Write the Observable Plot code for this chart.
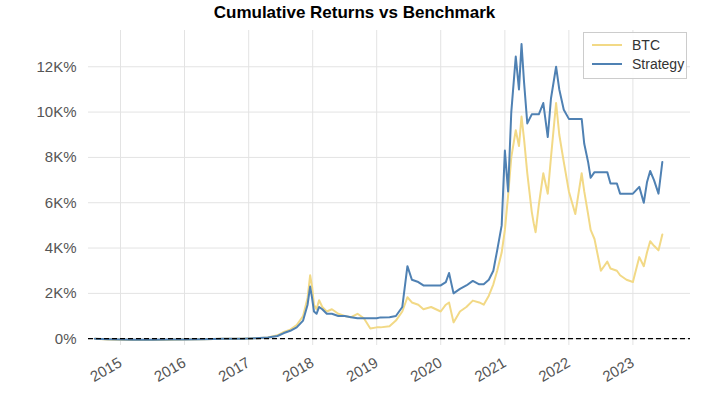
<!DOCTYPE html>
<html><head><meta charset="utf-8">
<script src="https://cdn.jsdelivr.net/npm/d3@7"></script>
<script src="https://cdn.jsdelivr.net/npm/@observablehq/plot@0.6"></script>
<style>
body{margin:0;background:#fff;font-family:"Liberation Sans",Arial,sans-serif;}
#wrap{position:relative;width:709px;}
#title{height:27px;line-height:26px;text-align:center;font-weight:bold;font-size:17px;color:#000;}
#legend{position:absolute;left:583px;top:32px;width:102px;height:45px;border:1px solid #ccc;background:rgba(255,255,255,0.9);font-size:14px;color:#333;}
.li{position:absolute;left:8px;display:flex;align-items:center;}
.sw{width:30px;height:2px;margin-right:10px;}
</style></head><body>
<div id="wrap"><div id="title">Cumulative Returns vs Benchmark</div><div id="chart"></div>
<div id="legend"><div class="li" style="top:4px"><div class="sw" style="background:#f2d986"></div>BTC</div>
<div class="li" style="top:23px"><div class="sw" style="background:#4f81b3"></div>Strategy</div></div></div>
<script>
const years = [2014.6,2014.8,2015.0,2015.2,2015.5,2015.8,2016.0,2016.3,2016.6,2016.9,2017.1,2017.3,2017.45,2017.55,2017.65,2017.75,2017.85,2017.92,2017.96,2017.99,2018.02,2018.06,2018.1,2018.15,2018.22,2018.3,2018.4,2018.5,2018.6,2018.7,2018.8,2018.9,2019.0,2019.06,2019.2,2019.3,2019.4,2019.48,2019.55,2019.65,2019.73,2019.85,2020.0,2020.08,2020.13,2020.2,2020.3,2020.4,2020.5,2020.6,2020.67,2020.75,2020.82,2020.88,2020.95,2021.0,2021.05,2021.1,2021.17,2021.22,2021.26,2021.3,2021.35,2021.42,2021.45,2021.48,2021.53,2021.6,2021.67,2021.72,2021.8,2021.85,2021.92,2022.0,2022.1,2022.2,2022.24,2022.3,2022.34,2022.4,2022.5,2022.6,2022.65,2022.75,2022.8,2022.9,2023.0,2023.1,2023.17,2023.22,2023.27,2023.33,2023.4,2023.46];
const btc = [0,-0.03,-0.05,-0.06,-0.06,-0.05,-0.03,-0.02,0,0,0.02,0.05,0.15,0.3,0.4,0.6,1.0,1.8,2.8,2.3,1.5,1.3,1.7,1.4,1.2,1.3,1.1,1.0,0.95,1.1,0.9,0.45,0.5,0.5,0.55,0.8,1.2,1.83,1.6,1.5,1.3,1.4,1.2,1.5,1.6,0.72,1.2,1.4,1.68,1.6,1.5,1.9,2.4,3.0,3.8,4.8,6.3,8.0,9.2,8.5,9.8,8.8,7.3,5.6,5.1,4.7,5.9,7.3,6.4,8.0,10.4,9.0,7.8,6.5,5.5,7.3,6.5,5.5,4.8,4.4,3.0,3.4,3.1,3.0,2.8,2.6,2.5,3.6,3.2,3.8,4.3,4.1,3.9,4.6];
const strategy = [0,-0.02,-0.04,-0.05,-0.05,-0.04,-0.03,-0.02,0,0,0.02,0.05,0.12,0.25,0.35,0.5,0.8,1.5,2.3,1.8,1.2,1.1,1.4,1.3,1.1,1.1,1.0,1.0,0.95,0.9,0.9,0.9,0.9,0.94,0.95,1.0,1.4,3.2,2.6,2.5,2.35,2.35,2.35,2.5,2.9,2.0,2.2,2.35,2.55,2.4,2.4,2.6,3.0,3.9,5.0,8.3,6.5,10.0,12.45,11.0,13.0,11.3,9.5,9.9,9.9,9.9,9.9,10.4,8.9,10.6,12.0,11.0,10.1,9.7,9.7,9.7,8.6,7.8,7.1,7.35,7.35,7.35,6.85,6.85,6.4,6.4,6.4,6.7,6.0,6.9,7.4,7.0,6.4,7.8];
const toDate = y => { const yr=Math.floor(y); const s=new Date(Date.UTC(yr,0,1)), e=new Date(Date.UTC(yr+1,0,1)); return new Date(+s+(y-yr)*(e-s)); };
const tickYears = [2015,2016,2017,2018,2019,2020,2021,2022,2023];
const yTicks = [0,2,4,6,8,10,12];
const rows = [];
years.forEach((y,i)=>{ rows.push({d:toDate(y),v:btc[i],s:"BTC"}); rows.push({d:toDate(y),v:strategy[i],s:"Strategy"}); });
const chart = Plot.plot({
  width:709,height:391,marginLeft:88,marginRight:19,marginTop:3,marginBottom:73,
  style:{fontSize:"15px",color:"#555",fontFamily:"Liberation Sans, Arial, sans-serif"},
  x:{type:"utc",domain:[toDate(2014.5),toDate(2023.9)],ticks:tickYears.map(y=>toDate(y)),tickFormat:d=>String(d.getUTCFullYear()),tickRotate:-30,tickSize:0,tickPadding:16,grid:true,label:null},
  y:{domain:[-0.3,13.6],ticks:yTicks,tickFormat:d=>d===0?"0%":d+"K%",tickSize:0,tickPadding:12,grid:true,label:null},
  color:{domain:["BTC","Strategy"],range:["#f2d986","#4f81b3"]},
  marks:[
    Plot.line(rows,{x:"d",y:"v",z:"s",stroke:"s",strokeWidth:2}),
    Plot.ruleY([0],{stroke:"#000",strokeDasharray:"5,3",strokeWidth:1.2})
  ]
});
chart.querySelectorAll("[aria-label$='grid'] line").forEach(l=>{l.setAttribute("stroke","#e3e3e3");l.setAttribute("stroke-opacity","1");});
document.getElementById("chart").appendChild(chart);
</script></body></html>
